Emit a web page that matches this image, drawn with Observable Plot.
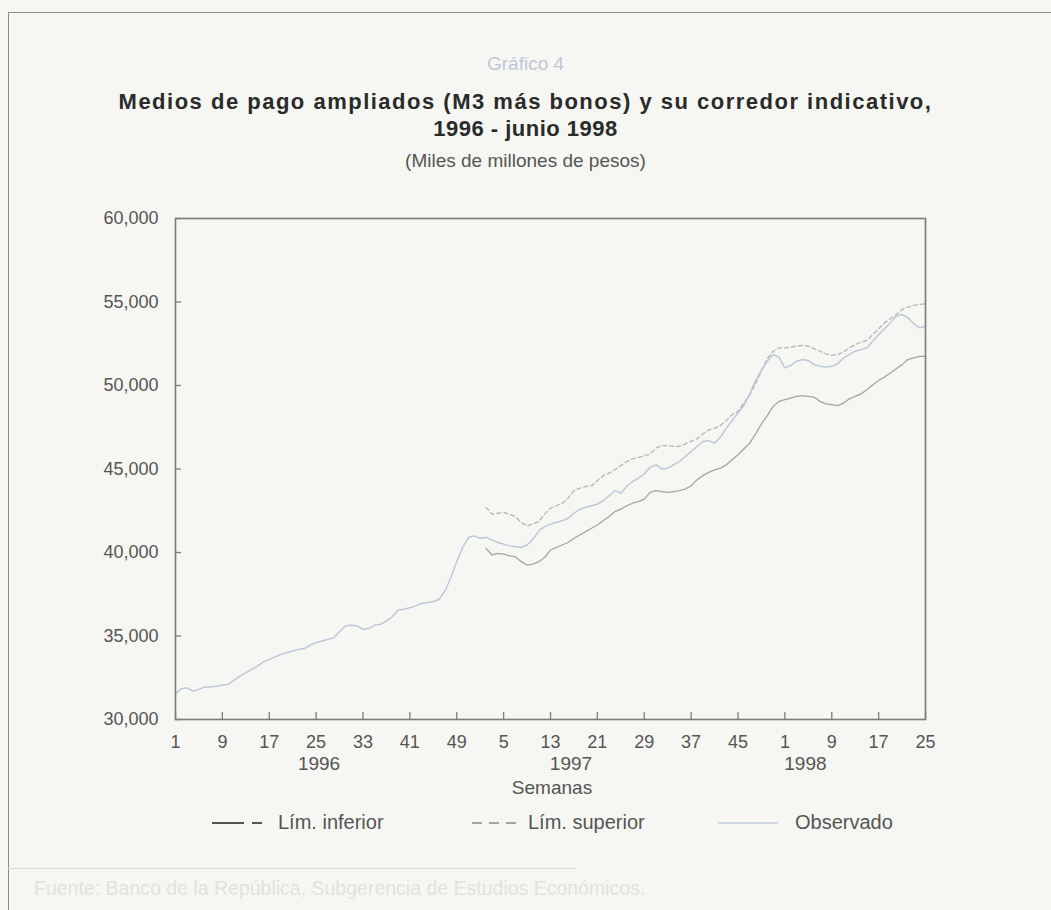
<!DOCTYPE html>
<html><head><meta charset="utf-8">
<script src="https://cdn.jsdelivr.net/npm/d3@7"></script>
<script src="https://cdn.jsdelivr.net/npm/@observablehq/plot@0.6"></script>
<style>
html,body{margin:0;padding:0;background:#f6f7f2;}
#page{position:relative;width:1051px;height:910px;overflow:hidden;background:#f6f7f2;font-family:"Liberation Sans Narrow","Arial Narrow","Liberation Sans",Arial,sans-serif;color:#555;}
.boxline-top{position:absolute;left:8px;top:12px;width:1043px;height:0;border-top:1.5px solid #8c8c8c;}
.boxline-left{position:absolute;left:8px;top:12px;width:0;height:900px;border-left:1.5px solid #8c8c8c;}
.center{position:absolute;left:0;width:1051px;text-align:center;white-space:nowrap;}
#g4{top:53px;font-size:19px;color:#bfc6d6;}
#t1{top:89px;font-family:"Liberation Sans",Arial,sans-serif;font-weight:bold;font-size:22px;color:#2a2a2a;letter-spacing:1.5px;}
#t2{top:116px;font-family:"Liberation Sans",Arial,sans-serif;font-weight:bold;font-size:22px;color:#2a2a2a;letter-spacing:0.5px;}
#sub{top:150px;font-size:19px;color:#555;}
#chart{position:absolute;left:0;top:190px;}
#semanas{position:absolute;left:452px;width:200px;text-align:center;top:777px;font-size:19px;color:#555;}
.leg{position:absolute;top:811px;font-size:20px;color:#555;white-space:nowrap;}
.leg svg{position:absolute;top:0;}
#sep{position:absolute;left:8px;top:868px;width:568px;border-top:1px solid #d8dad6;}
#src{position:absolute;left:34px;top:877px;font-size:19.5px;color:#dfe2df;white-space:nowrap;}
</style></head>
<body>
<div id="page">
  <div class="boxline-top"></div>
  <div class="boxline-left"></div>
  <div id="g4" class="center">Gráfico 4</div>
  <div id="t1" class="center">Medios de pago ampliados (M3 más bonos) y su corredor indicativo,</div>
  <div id="t2" class="center">1996 - junio 1998</div>
  <div id="sub" class="center">(Miles de millones de pesos)</div>
  <div id="chart"></div>
  <div id="semanas">Semanas</div>
  <div class="leg" style="left:212px;width:200px;height:26px;">
    <svg width="52" height="24" style="left:0;"><line x1="0" y1="12" x2="52" y2="12" stroke="#555" stroke-width="2.2" stroke-dasharray="32,8,10,6"/></svg>
    <span style="position:absolute;left:66px;top:0;">Lím. inferior</span>
  </div>
  <div class="leg" style="left:472px;width:200px;height:26px;">
    <svg width="46" height="24" style="left:0;"><line x1="0" y1="12" x2="46" y2="12" stroke="#8a8a8a" stroke-width="1.5" stroke-dasharray="10,7"/></svg>
    <span style="position:absolute;left:56px;top:0;">Lím. superior</span>
  </div>
  <div class="leg" style="left:718px;width:200px;height:26px;">
    <svg width="60" height="24" style="left:0;"><line x1="0" y1="12" x2="60" y2="12" stroke="#c3cde0" stroke-width="1.5"/></svg>
    <span style="position:absolute;left:77px;top:0;">Observado</span>
  </div>
  <div id="sep"></div>
  <div id="src">Fuente: Banco de la República, Subgerencia de Estudios Económicos.</div>
</div>
<script>
// Weekly series: index 0 = 1996 week 1, 52 = 1997 week 1, 104 = 1998 week 1, 128 = 1998 week 25
const observado = [
  31550, 31850, 31900, 31700, 31800, 31950, 31950, 32000, 32050, 32100,
  32350, 32600, 32800, 33000, 33200, 33450, 33600, 33750, 33900, 34000,
  34100, 34200, 34250, 34450, 34600, 34700, 34800, 34900, 35250, 35600,
  35650, 35600, 35400, 35450, 35650, 35700, 35900, 36150, 36550, 36600,
  36700, 36800, 36950, 37000, 37050, 37200, 37700, 38500, 39450, 40300,
  40900, 41000, 40850, 40900, 40750, 40600, 40500, 40400, 40350, 40300,
  40450, 40800, 41300, 41550, 41700, 41800, 41900, 42050, 42350, 42600,
  42700, 42800, 42900, 43100, 43400, 43700, 43550, 43950, 44250, 44450,
  44700, 45100, 45250, 45000, 45050, 45250, 45450, 45750, 46050, 46350,
  46650, 46700, 46550, 46900, 47450, 47900, 48350, 48800, 49500, 50300,
  50900, 51450, 51850, 51700, 51050, 51200, 51450, 51550, 51500, 51250,
  51150, 51100, 51150, 51300, 51650, 51850, 52050, 52150, 52250, 52650,
  53050, 53400, 53750, 54150, 54250, 54050, 53700, 53450, 53550
];
// corridor starts at 1997 week 2 (index 53)
const corredorInicio = 53;
const limInferior = [
  40250, 39850, 39950, 39900, 39800, 39750, 39450, 39250, 39300, 39450,
  39700, 40150, 40300, 40450, 40600, 40850, 41050, 41250, 41450, 41650,
  41900, 42150, 42450, 42600, 42800, 42950, 43050, 43200, 43600, 43700,
  43650, 43600, 43650, 43700, 43800, 44000, 44350, 44600, 44800, 44950,
  45050, 45250, 45550, 45850, 46200, 46550, 47100, 47700, 48200, 48750,
  49050, 49150, 49250, 49350, 49400, 49350, 49300, 49050, 48900, 48850,
  48800, 48950, 49200, 49350, 49500, 49750, 50050, 50300, 50500, 50750,
  51000, 51250, 51550, 51650, 51750, 51750
];
const limSuperior = [
  42700, 42300, 42350, 42400, 42300, 42150, 41800, 41600, 41700, 41850,
  42300, 42650, 42800, 42950, 43250, 43700, 43850, 43950, 44000, 44300,
  44600, 44750, 44950, 45200, 45450, 45600, 45700, 45800, 45900, 46250,
  46400, 46400, 46350, 46350, 46500, 46650, 46800, 47100, 47350, 47450,
  47600, 47900, 48250, 48450, 48950, 49450, 50100, 50900, 51600, 52050,
  52250, 52250, 52300, 52350, 52400, 52350, 52200, 52050, 51900, 51800,
  51850, 52000, 52250, 52450, 52600, 52700, 53050, 53400, 53750, 54000,
  54250, 54550, 54700, 54800, 54850, 54900
];
const xTicks = [0, 8, 16, 24, 32, 40, 48, 56, 64, 72, 80, 88, 96, 104, 112, 120, 128];
const xTickLabels = ["1","9","17","25","33","41","49","5","13","21","29","37","45","1","9","17","25"];
const yTicks = [30000, 35000, 40000, 45000, 50000, 55000, 60000];
const years = ["1996", "1997", "1998"];
const yearAt = [24.5, 67.5, 107.5];

const obsRows = observado.map((v, i) => ({i, v}));
const lowRows = limInferior.map((v, k) => ({i: k + corredorInicio, v}));
const upRows = limSuperior.map((v, k) => ({i: k + corredorInicio, v}));
const yearRows = years.map((y, k) => ({y, x: yearAt[k]}));

const W = 1051, H = 620, mL = 175, mR = 126, mT = 28, mB = 91;
const plotW = W - mL - mR, plotH = H - mT - mB;

const chart = Plot.plot({
  width: W, height: H,
  marginLeft: mL, marginRight: mR, marginTop: mT, marginBottom: mB,
  style: {background: "transparent", fontFamily: '"Liberation Sans Narrow","Arial Narrow","Liberation Sans",Arial,sans-serif', fontSize: "18px", color: "#555"},
  x: {domain: [0, 128], label: null},
  y: {domain: [30000, 60000], label: null},
  marks: [
    Plot.line(lowRows, {x: "i", y: "v", stroke: "#a4a4a4", strokeWidth: 1.3}),
    Plot.line(upRows, {x: "i", y: "v", stroke: "#b4b4b4", strokeWidth: 1.3, strokeDasharray: "4,3"}),
    Plot.line(obsRows, {x: "i", y: "v", stroke: "#b9c5da", strokeWidth: 1.4}),
    Plot.frame({stroke: "#7c7c7c", strokeWidth: 1.6}),
    Plot.tickY(yTicks, {y: d => d, stroke: "#7c7c7c", strokeWidth: 1.3, insetRight: plotW - 6}),
    Plot.tickX(xTicks, {x: d => d, stroke: "#7c7c7c", strokeWidth: 1.3, insetTop: plotH - 7}),
    Plot.axisY({ticks: yTicks, tickFormat: d3.format(","), tickSize: 0, tickPadding: 17, fill: "#555", fontSize: 18, label: null}),
    Plot.axisX({ticks: xTicks, tickFormat: d => xTickLabels[xTicks.indexOf(d)], tickSize: 0, tickPadding: 16, fill: "#555", fontSize: 18, label: null}),
    Plot.text(yearRows, {x: "x", text: "y", frameAnchor: "bottom", dy: 50, fill: "#555", fontSize: 19})
  ]
});
document.getElementById("chart").appendChild(chart);
</script>
</body></html>
